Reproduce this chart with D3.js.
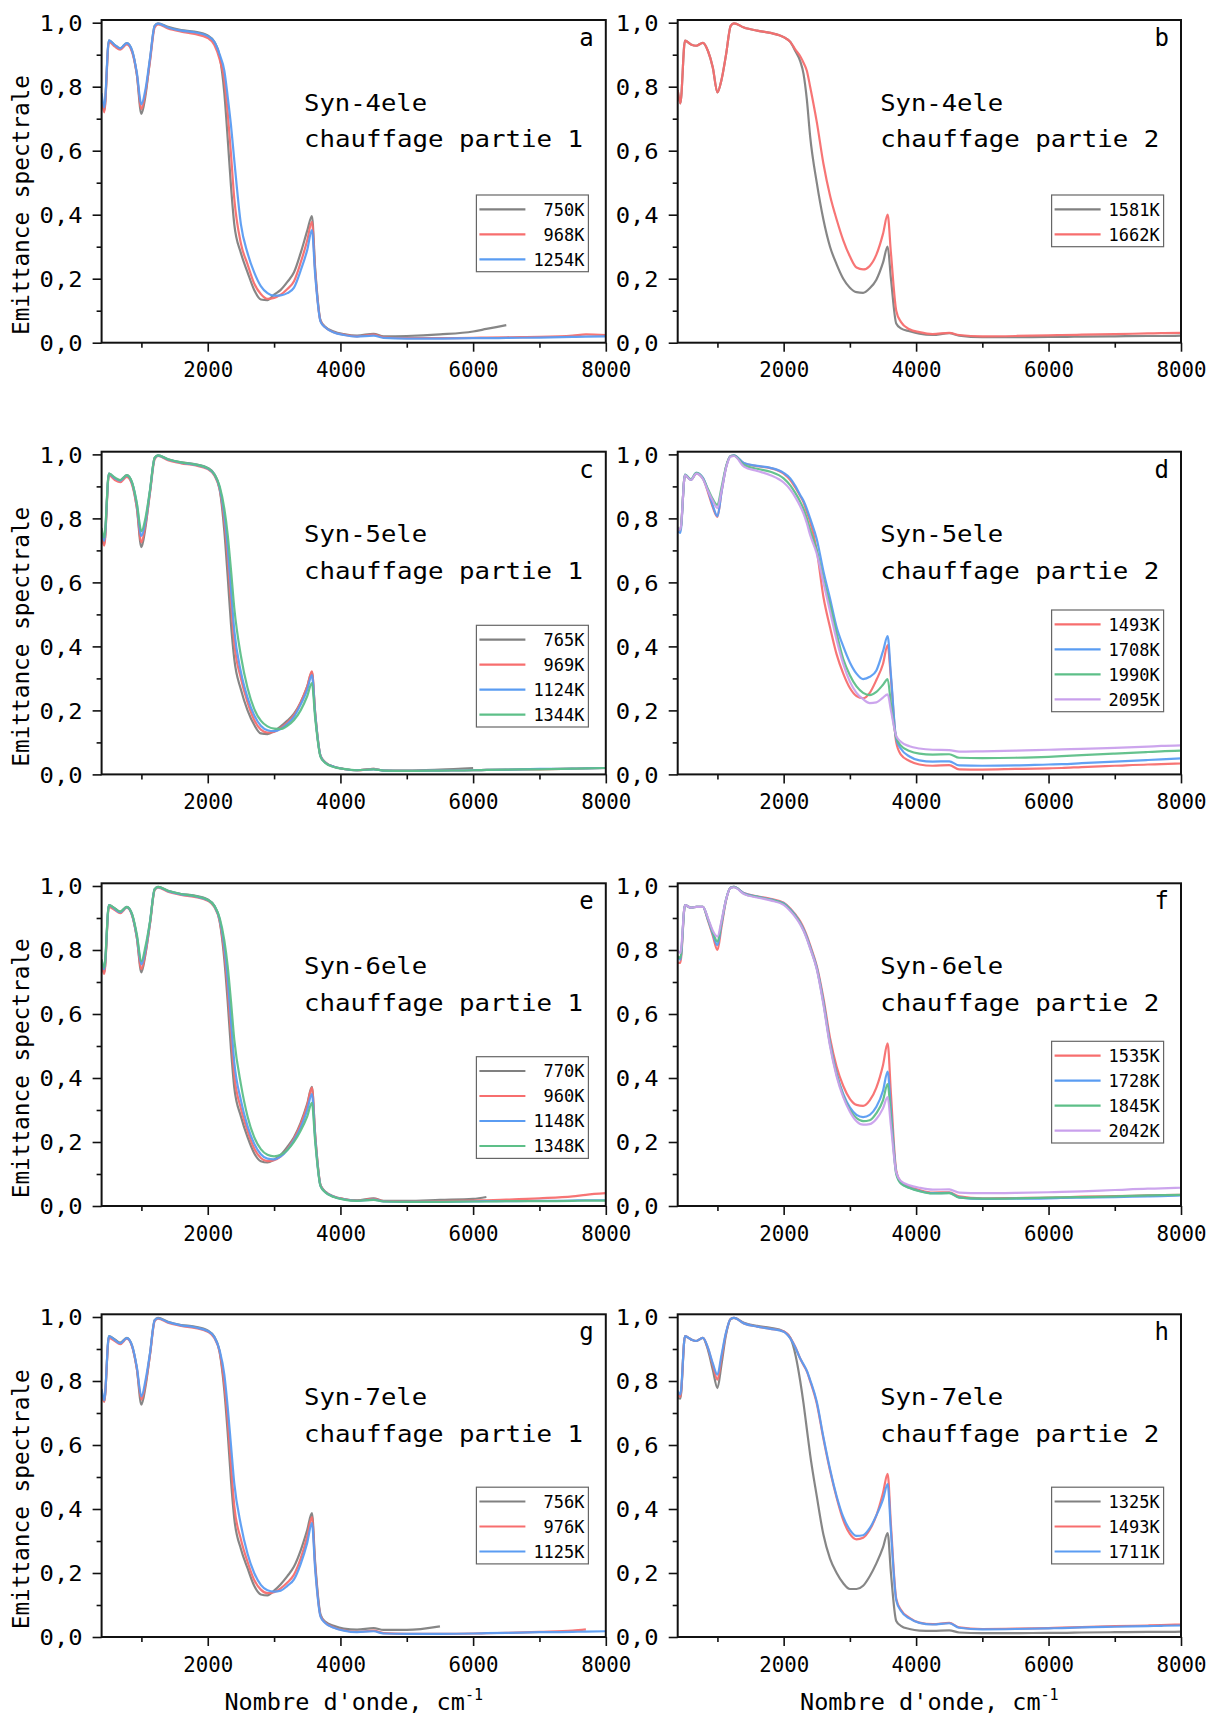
<!DOCTYPE html>
<html><head><meta charset="utf-8">
<script src="https://cdn.jsdelivr.net/npm/d3@7"></script>
<style>body{margin:0;background:#fff} svg{display:block}</style>
</head><body><svg id="c" width="1209" height="1717"></svg>
<script>
// ---------- DATA ----------
const wavenumbers = [400,440,510,600,680,780,860,930,1000,1060,1130,1200,1250,1400,1600,1800,2000,2100,2180,2250,2300,2350,2400,2500,2600,2700,2800,2900,3000,3100,3200,3300,3400,3500,3570,3620,3700,3770,3900,4050,4250,4500,4650,5000,5500,6000,6200,6500,7000,7500,7700,8000];
const xMajorTicks = [2000,4000,6000,8000];
const xMinorTicks = [1000,3000,5000,7000];
const yMajorTicks = [0,0.2,0.4,0.6,0.8,1.0];
const yMinorTicks = [0.1,0.3,0.5,0.7,0.9];
const yTickLabels = ["0,0","0,2","0,4","0,6","0,8","1,0"];

// (a) Syn-4ele chauffage partie 1
const a_750K  = [0.77,0.725,0.945,0.93,0.92,0.936,0.912,0.84,0.715,0.77,0.885,0.99,0.998,0.987,0.977,0.972,0.96,0.94, 0.895,0.78,0.64,0.49,0.37,0.28,0.22,0.165,0.135,0.133,0.15,0.165,0.19,0.22,0.28,0.35,0.396, 0.23,0.07,0.05,0.035,0.027,0.022,0.028,0.02,0.021,0.026,0.035,0.043,0.055,null,null,null,null];
const a_968K  = [0.76,0.72,0.94,0.925,0.916,0.932,0.908,0.84,0.73,0.78,0.88,0.985,0.995,0.982,0.972,0.965,0.952,0.93, 0.885,0.82,0.72,0.59,0.45,0.31,0.245,0.185,0.152,0.137,0.14,0.15,0.168,0.192,0.25,0.32,0.378, 0.22,0.068,0.048,0.033,0.025,0.02,0.025,0.017,0.014,0.014,0.015,0.016,0.017,0.018,0.022,0.026,0.024];
const a_1254K = [0.78,0.735,0.945,0.93,0.92,0.936,0.913,0.845,0.745,0.79,0.89,0.99,0.997,0.985,0.975,0.97,0.958,0.94, 0.9,0.85,0.77,0.68,0.57,0.37,0.28,0.22,0.177,0.155,0.147,0.148,0.155,0.172,0.225,0.29,0.352, 0.21,0.066,0.048,0.032,0.024,0.019,0.022,0.015,0.013,0.013,0.014,0.014,0.015,0.016,0.018,0.019,0.02];
// (b) Syn-4ele chauffage partie 2
const b_1581K = [0.79,0.748,0.944,0.932,0.928,0.937,0.91,0.86,0.782,0.82,0.9,0.99,0.998,0.985,0.975,0.968,0.955,0.94, 0.91,0.88,0.84,0.76,0.645,0.5,0.385,0.3,0.245,0.2,0.172,0.158,0.156,0.17,0.197,0.25,0.3, 0.2,0.06,0.045,0.036,0.028,0.024,0.03,0.022,0.017,0.017,0.018,0.018,0.019,0.02,0.021,0.021,0.022];
const b_1662K = [0.79,0.748,0.944,0.932,0.928,0.937,0.91,0.86,0.782,0.82,0.9,0.99,0.998,0.985,0.975,0.968,0.955,0.94, 0.915,0.895,0.875,0.85,0.8,0.69,0.56,0.46,0.385,0.32,0.27,0.235,0.229,0.24,0.275,0.34,0.40, 0.28,0.1,0.065,0.042,0.033,0.027,0.031,0.024,0.02,0.021,0.023,0.024,0.025,0.027,0.029,0.03,0.031];
// (c) Syn-5ele chauffage partie 1
const c_765K  = [0.75,0.72,0.94,0.925,0.918,0.935,0.91,0.835,0.71,0.77,0.885,0.99,0.997,0.985,0.975,0.97,0.958,0.938, 0.89,0.76,0.62,0.47,0.36,0.265,0.2,0.155,0.128,0.126,0.135,0.15,0.168,0.19,0.225,0.275,0.32, 0.19,0.058,0.038,0.024,0.017,0.013,0.017,0.012,0.012,0.015,0.02,null,null,null,null,null,null];
const c_969K  = [0.74,0.715,0.935,0.92,0.913,0.93,0.905,0.835,0.725,0.78,0.88,0.985,0.995,0.982,0.972,0.966,0.954,0.934, 0.89,0.79,0.68,0.54,0.41,0.3,0.225,0.17,0.14,0.131,0.133,0.145,0.162,0.185,0.225,0.275,0.322, 0.19,0.058,0.038,0.024,0.017,0.013,0.017,0.012,0.011,0.012,0.013,0.014,0.015,0.016,0.018,0.019,0.02];
const c_1124K = [0.76,0.73,0.94,0.925,0.918,0.934,0.91,0.845,0.745,0.79,0.887,0.988,0.996,0.984,0.974,0.968,0.956,0.937, 0.895,0.81,0.71,0.58,0.45,0.32,0.24,0.185,0.152,0.138,0.135,0.142,0.158,0.18,0.218,0.265,0.31, 0.185,0.057,0.037,0.024,0.017,0.013,0.016,0.012,0.011,0.012,0.013,0.014,0.015,0.017,0.018,0.019,0.02];
const c_1344K = [0.77,0.74,0.94,0.928,0.92,0.935,0.912,0.85,0.76,0.8,0.89,0.99,0.997,0.985,0.975,0.969,0.957,0.938, 0.9,0.83,0.75,0.64,0.52,0.37,0.27,0.205,0.168,0.15,0.143,0.142,0.152,0.17,0.2,0.245,0.285, 0.175,0.055,0.036,0.023,0.017,0.013,0.016,0.012,0.011,0.012,0.013,0.014,0.015,0.016,0.018,0.019,0.02];
// (d) Syn-5ele chauffage partie 2
const d_1493K = [0.77,0.763,0.935,0.92,0.94,0.925,0.88,0.835,0.805,0.88,0.96,0.995,0.996,0.972,0.963,0.957,0.94,0.92, 0.895,0.87,0.85,0.82,0.79,0.70,0.555,0.46,0.375,0.315,0.27,0.245,0.238,0.255,0.295,0.345,0.404, 0.3,0.1,0.062,0.042,0.031,0.027,0.029,0.016,0.015,0.017,0.019,0.02,0.023,0.027,0.031,0.032,0.034];
const d_1708K = [0.76,0.755,0.937,0.92,0.942,0.927,0.885,0.84,0.807,0.88,0.96,0.995,0.997,0.973,0.964,0.958,0.942,0.925, 0.9,0.873,0.855,0.83,0.8,0.735,0.635,0.55,0.46,0.4,0.35,0.315,0.298,0.305,0.325,0.385,0.432, 0.31,0.11,0.08,0.056,0.044,0.04,0.041,0.028,0.027,0.028,0.031,0.032,0.035,0.04,0.045,0.047,0.05];
const d_1990K = [0.77,0.765,0.937,0.922,0.942,0.925,0.89,0.86,0.842,0.895,0.962,0.995,0.996,0.967,0.955,0.946,0.925,0.903, 0.878,0.852,0.83,0.8,0.765,0.7,0.61,0.53,0.44,0.36,0.31,0.275,0.255,0.248,0.258,0.28,0.298, 0.22,0.115,0.09,0.073,0.065,0.062,0.063,0.052,0.051,0.052,0.055,0.057,0.06,0.065,0.07,0.072,0.074];
const d_2095K = [0.77,0.765,0.935,0.92,0.94,0.923,0.885,0.855,0.832,0.885,0.958,0.993,0.995,0.962,0.948,0.935,0.912,0.89, 0.865,0.838,0.815,0.785,0.748,0.69,0.6,0.51,0.42,0.345,0.29,0.255,0.235,0.223,0.225,0.24,0.25, 0.2,0.12,0.102,0.088,0.081,0.077,0.076,0.071,0.072,0.074,0.077,0.078,0.08,0.083,0.087,0.089,0.091];
// (e) Syn-6ele chauffage partie 1
const e_770K  = [0.76,0.73,0.94,0.93,0.92,0.935,0.91,0.84,0.73,0.785,0.885,0.99,0.997,0.985,0.975,0.97,0.958,0.938, 0.89,0.77,0.64,0.49,0.37,0.28,0.215,0.165,0.14,0.136,0.145,0.16,0.185,0.215,0.26,0.32,0.372, 0.22,0.065,0.045,0.03,0.022,0.018,0.024,0.016,0.016,0.019,0.022,0.028,null,null,null,null,null];
const e_960K  = [0.75,0.725,0.935,0.925,0.915,0.932,0.907,0.84,0.74,0.79,0.882,0.987,0.995,0.982,0.972,0.966,0.954,0.934, 0.89,0.79,0.68,0.54,0.41,0.305,0.235,0.18,0.15,0.14,0.143,0.155,0.178,0.21,0.255,0.315,0.37, 0.22,0.065,0.045,0.03,0.022,0.017,0.022,0.015,0.014,0.015,0.017,0.018,0.02,0.024,0.03,0.035,0.04];
const e_1148K = [0.77,0.74,0.94,0.928,0.918,0.934,0.91,0.845,0.755,0.8,0.888,0.99,0.996,0.984,0.974,0.968,0.956,0.937, 0.895,0.81,0.71,0.58,0.45,0.33,0.25,0.195,0.162,0.148,0.146,0.155,0.175,0.205,0.245,0.3,0.35, 0.21,0.063,0.044,0.029,0.021,0.016,0.02,0.014,0.013,0.013,0.014,0.015,0.015,0.016,0.017,0.018,0.018];
const e_1348K = [0.77,0.745,0.94,0.93,0.92,0.935,0.912,0.85,0.765,0.81,0.89,0.99,0.997,0.985,0.975,0.969,0.957,0.938, 0.9,0.83,0.75,0.64,0.52,0.38,0.28,0.215,0.178,0.16,0.155,0.16,0.175,0.2,0.235,0.28,0.322, 0.2,0.062,0.043,0.028,0.02,0.016,0.019,0.014,0.013,0.013,0.014,0.014,0.015,0.015,0.016,0.017,0.017];
// (f) Syn-6ele chauffage partie 2
const f_1535K = [0.76,0.76,0.94,0.932,0.935,0.935,0.89,0.845,0.80,0.87,0.955,0.995,0.997,0.978,0.968,0.96,0.948,0.93, 0.91,0.89,0.87,0.845,0.815,0.75,0.65,0.525,0.435,0.375,0.335,0.316,0.313,0.33,0.37,0.44,0.508, 0.35,0.11,0.075,0.06,0.05,0.042,0.043,0.03,0.024,0.025,0.026,0.027,0.029,0.031,0.033,0.034,0.035];
const f_1728K = [0.78,0.77,0.94,0.932,0.935,0.935,0.893,0.85,0.815,0.88,0.957,0.995,0.997,0.977,0.967,0.958,0.946,0.927, 0.907,0.885,0.865,0.84,0.81,0.745,0.64,0.51,0.415,0.35,0.308,0.285,0.278,0.285,0.31,0.36,0.42, 0.3,0.105,0.072,0.057,0.047,0.04,0.041,0.027,0.022,0.023,0.024,0.025,0.026,0.028,0.03,0.031,0.033];
const f_1845K = [0.78,0.775,0.94,0.932,0.935,0.935,0.895,0.855,0.826,0.885,0.958,0.995,0.997,0.976,0.966,0.957,0.944,0.925, 0.905,0.883,0.862,0.837,0.807,0.742,0.635,0.505,0.41,0.345,0.3,0.275,0.265,0.268,0.29,0.33,0.381, 0.28,0.1,0.07,0.056,0.046,0.039,0.04,0.026,0.023,0.024,0.026,0.027,0.028,0.03,0.033,0.034,0.035];
const f_2042K = [0.8,0.79,0.94,0.932,0.935,0.935,0.898,0.86,0.842,0.89,0.958,0.995,0.996,0.975,0.964,0.955,0.941,0.922, 0.902,0.88,0.86,0.835,0.805,0.74,0.63,0.5,0.405,0.34,0.295,0.265,0.254,0.256,0.272,0.305,0.34, 0.25,0.105,0.078,0.065,0.057,0.051,0.052,0.042,0.04,0.041,0.043,0.044,0.046,0.05,0.054,0.055,0.057];
// (g) Syn-7ele chauffage partie 1
const g_756K  = [0.77,0.736,0.94,0.93,0.92,0.935,0.91,0.84,0.726,0.78,0.885,0.99,0.997,0.985,0.975,0.97,0.958,0.938, 0.89,0.77,0.64,0.49,0.37,0.275,0.215,0.16,0.133,0.13,0.145,0.165,0.19,0.22,0.27,0.335,0.387, 0.23,0.07,0.048,0.035,0.026,0.023,0.028,0.022,0.022,0.033,null,null,null,null,null,null,null];
const g_976K  = [0.76,0.735,0.935,0.925,0.915,0.932,0.907,0.84,0.742,0.79,0.882,0.987,0.995,0.982,0.972,0.966,0.954,0.934, 0.89,0.79,0.68,0.54,0.41,0.305,0.235,0.178,0.148,0.137,0.14,0.152,0.17,0.195,0.245,0.315,0.375, 0.22,0.066,0.045,0.03,0.021,0.016,0.02,0.012,0.01,0.01,0.011,0.012,0.013,0.016,0.02,0.024,null];
const g_1125K = [0.775,0.74,0.94,0.928,0.918,0.934,0.91,0.845,0.752,0.8,0.888,0.99,0.996,0.984,0.974,0.968,0.956,0.937, 0.895,0.82,0.72,0.6,0.48,0.35,0.26,0.2,0.163,0.146,0.142,0.145,0.16,0.18,0.228,0.295,0.356, 0.21,0.064,0.044,0.029,0.02,0.015,0.018,0.011,0.01,0.01,0.011,0.012,0.013,0.015,0.016,0.017,0.018];
// (h) Syn-7ele chauffage partie 2
const h_1325K = [0.747,0.745,0.94,0.93,0.925,0.935,0.895,0.835,0.778,0.85,0.945,0.993,0.997,0.982,0.972,0.966,0.955,0.935, 0.88,0.8,0.73,0.65,0.57,0.44,0.32,0.245,0.2,0.168,0.15,0.15,0.16,0.19,0.23,0.28,0.325, 0.2,0.05,0.035,0.025,0.02,0.019,0.021,0.014,0.012,0.012,0.013,0.013,0.014,0.015,0.016,0.016,0.017];
const h_1493K = [0.76,0.75,0.94,0.93,0.925,0.935,0.9,0.85,0.804,0.87,0.95,0.994,0.997,0.98,0.97,0.963,0.955,0.935, 0.905,0.87,0.85,0.83,0.8,0.73,0.62,0.52,0.435,0.365,0.322,0.305,0.31,0.335,0.38,0.45,0.51, 0.35,0.12,0.085,0.06,0.045,0.04,0.044,0.03,0.025,0.026,0.028,0.029,0.031,0.034,0.036,0.037,0.039];
const h_1711K = [0.77,0.758,0.94,0.93,0.925,0.935,0.902,0.855,0.82,0.88,0.952,0.994,0.997,0.98,0.97,0.963,0.954,0.933, 0.903,0.87,0.852,0.832,0.803,0.735,0.625,0.525,0.44,0.375,0.335,0.316,0.318,0.34,0.38,0.43,0.478, 0.33,0.115,0.082,0.058,0.044,0.039,0.043,0.029,0.024,0.025,0.027,0.028,0.03,0.032,0.034,0.035,0.036];

const GRAY="#808080", RED="#f76e6e", BLUE="#5a9cf2", GREEN="#5dbf88", PURPLE="#c9a0ec";

const panels = [
  {id:"a", col:0, row:0, text:["Syn-4ele","chauffage partie 1"], legTop:175, series:[["750K",GRAY,a_750K],["968K",RED,a_968K],["1254K",BLUE,a_1254K]]},
  {id:"b", col:1, row:0, text:["Syn-4ele","chauffage partie 2"], legTop:175, series:[["1581K",GRAY,b_1581K],["1662K",RED,b_1662K]]},
  {id:"c", col:0, row:1, text:["Syn-5ele","chauffage partie 1"], legTop:173.6, series:[["765K",GRAY,c_765K],["969K",RED,c_969K],["1124K",BLUE,c_1124K],["1344K",GREEN,c_1344K]]},
  {id:"d", col:1, row:1, text:["Syn-5ele","chauffage partie 2"], legTop:158.3, series:[["1493K",RED,d_1493K],["1708K",BLUE,d_1708K],["1990K",GREEN,d_1990K],["2095K",PURPLE,d_2095K]]},
  {id:"e", col:0, row:2, text:["Syn-6ele","chauffage partie 1"], legTop:173.4, series:[["770K",GRAY,e_770K],["960K",RED,e_960K],["1148K",BLUE,e_1148K],["1348K",GREEN,e_1348K]]},
  {id:"f", col:1, row:2, text:["Syn-6ele","chauffage partie 2"], legTop:158, series:[["1535K",RED,f_1535K],["1728K",BLUE,f_1728K],["1845K",GREEN,f_1845K],["2042K",PURPLE,f_2042K]]},
  {id:"g", col:0, row:3, text:["Syn-7ele","chauffage partie 1"], legTop:172.9, series:[["756K",GRAY,g_756K],["976K",RED,g_976K],["1125K",BLUE,g_1125K]]},
  {id:"h", col:1, row:3, text:["Syn-7ele","chauffage partie 2"], legTop:172.9, series:[["1325K",GRAY,h_1325K],["1493K",RED,h_1493K],["1711K",BLUE,h_1711K]]}
];

// ---------- LAYOUT ----------
const FONT = "'DejaVu Sans Mono', 'Liberation Mono', monospace";
const colX = [[101.6, 605.8], [677.7, 1181]];
const rowTop = [20, 451.7, 883.3, 1314.3];
const H = 322.7;
const svg = d3.select("#c");
svg.append("rect").attr("width",1209).attr("height",1717).attr("fill","#fff");

panels.forEach(p => {
  const [x0, x1] = colX[p.col];
  const top = rowTop[p.row];
  const x = d3.scaleLinear().domain([400, 8000]).range([x0, x1]);
  const y = d3.scaleLinear().domain([0, 1.0084]).range([top + H, top]);
  const g = svg.append("g");

  const clipId = "clip-" + p.id;
  svg.append("clipPath").attr("id", clipId).append("rect")
    .attr("x", x0).attr("y", top).attr("width", x1 - x0).attr("height", H);

  const line = d3.line()
    .defined(d => d[1] != null)
    .x(d => x(d[0])).y(d => y(d[1]))
    .curve(d3.curveMonotoneX);

  const curves = g.append("g").attr("clip-path", `url(#${clipId})`);
  p.series.forEach(([label, color, vals]) => {
    curves.append("path")
      .datum(wavenumbers.map((w, i) => [w, vals[i]]))
      .attr("d", line).attr("fill", "none")
      .attr("stroke", color).attr("stroke-width", 2.2)
      .attr("stroke-linejoin", "round").attr("opacity", 0.95);
  });

  // axes
  const xa = g.append("g").attr("transform", `translate(0,${top + H})`)
    .call(d3.axisBottom(x).tickValues(xMajorTicks).tickSize(9).tickPadding(11).tickFormat(d3.format("d")));
  const xm = g.append("g").attr("transform", `translate(0,${top + H})`)
    .call(d3.axisBottom(x).tickValues(xMinorTicks).tickSize(5).tickFormat(""));
  const ya = g.append("g").attr("transform", `translate(${x0},0)`)
    .call(d3.axisLeft(y).tickValues(yMajorTicks).tickSize(9).tickPadding(10)
      .tickFormat((d, i) => yTickLabels[i]));
  const ym = g.append("g").attr("transform", `translate(${x0},0)`)
    .call(d3.axisLeft(y).tickValues(yMinorTicks).tickSize(5).tickFormat(""));
  [xa, xm, ya, ym].forEach(a => {
    a.select(".domain").remove();
    a.selectAll("line").attr("stroke", "#111").attr("stroke-width", 1.6);
  });
  xa.selectAll("text").attr("font-family", FONT).attr("font-size", 20.5).attr("fill", "#000")
    .attr("textLength", 50).attr("lengthAdjust", "spacingAndGlyphs");
  ya.selectAll("text").attr("font-family", FONT).attr("font-size", 21).attr("fill", "#000")
    .attr("dy", "0.38em")
    .attr("textLength", 43).attr("lengthAdjust", "spacingAndGlyphs");

  // frame
  g.append("rect").attr("x", x0).attr("y", top).attr("width", x1 - x0).attr("height", H)
    .attr("fill", "none").attr("stroke", "#111").attr("stroke-width", 2);

  // panel letter
  g.append("text").attr("x", x1 - 12).attr("y", top + 26).attr("text-anchor", "end")
    .attr("font-family", FONT).attr("font-size", 24).attr("fill", "#000").text(p.id);

  // annotation
  g.append("text").attr("x", x0 + 202.5).attr("y", top + 90.7)
    .attr("font-family", FONT).attr("font-size", 23.5).attr("fill", "#000")
    .attr("textLength", 123).attr("lengthAdjust", "spacingAndGlyphs").text(p.text[0]);
  g.append("text").attr("x", x0 + 202.5).attr("y", top + 127.3)
    .attr("font-family", FONT).attr("font-size", 23.5).attr("fill", "#000")
    .attr("textLength", 279).attr("lengthAdjust", "spacingAndGlyphs").text(p.text[1]);

  // legend
  const n = p.series.length;
  const bw = 112, bh = 26.7 + (n - 1) * 25;
  const bx = x1 - 129.4, by = top + p.legTop;
  const lg = g.append("g");
  lg.append("rect").attr("x", bx).attr("y", by).attr("width", bw).attr("height", bh)
    .attr("fill", "#fff").attr("stroke", "#666").attr("stroke-width", 1.2);
  p.series.forEach(([label, color], i) => {
    const cy = by + 14.3 + i * 25;
    lg.append("line").attr("x1", bx + 3).attr("x2", bx + 49).attr("y1", cy).attr("y2", cy)
      .attr("stroke", color).attr("stroke-width", 2.2);
    lg.append("text").attr("x", bx + bw - 4).attr("y", cy + 6.2).attr("text-anchor", "end")
      .attr("font-family", FONT).attr("font-size", 17.5).attr("fill", "#000")
      .attr("textLength", label.length * 10.2).attr("lengthAdjust", "spacingAndGlyphs").text(label);
  });

  // y title (left column)
  if (p.col === 0) {
    g.append("text").attr("transform", `translate(29,${top + 185}) rotate(-90)`)
      .attr("text-anchor", "middle").attr("font-family", FONT).attr("font-size", 23.5).attr("fill", "#000")
      .attr("textLength", 260).attr("lengthAdjust", "spacingAndGlyphs")
      .text("Emittance spectrale");
  }
  // x title (bottom row)
  if (p.row === 3) {
    const t = g.append("text").attr("x", (x0 + x1) / 2).attr("y", 1710)
      .attr("text-anchor", "middle").attr("font-family", FONT).attr("font-size", 23.5).attr("fill", "#000");
    t.append("tspan").text("Nombre d'onde, cm");
    t.append("tspan").attr("dy", -10).attr("font-size", 15).text("-1");
  }
});
</script></body></html>
